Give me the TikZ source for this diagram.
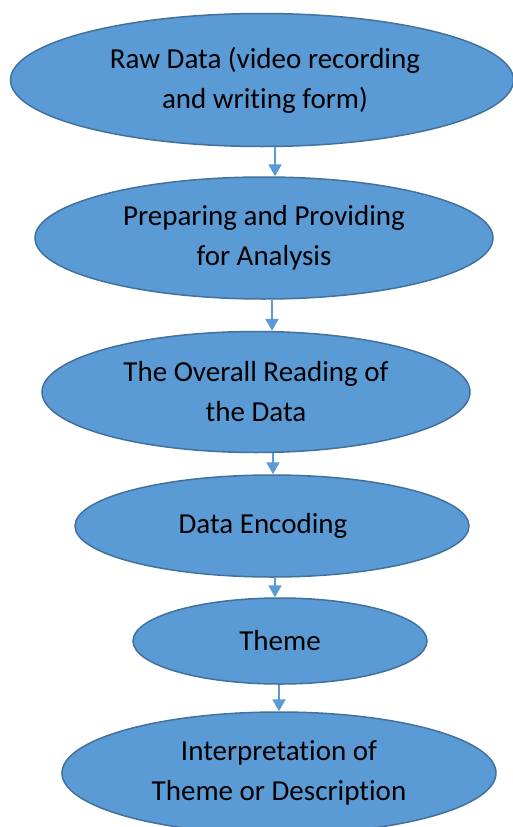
\documentclass[tikz,border=0pt]{standalone}
\usepackage{fontspec}
\setmainfont{Carlito}[Ligatures=NoCommon]
\usetikzlibrary{shapes.geometric,arrows.meta}
\definecolor{fillblue}{HTML}{5B9BD5}
\definecolor{edgeblue}{HTML}{41719C}
\tikzset{
  stage/.style={ellipse, draw=edgeblue, line width=1.5pt, fill=fillblue, inner sep=0pt,
    align=center, font=\fontsize{29}{40}\selectfont, text=black},
  flow/.style={draw=fillblue, line width=2.2pt, -{Triangle[width=13pt,length=12pt]}}
}
\begin{document}
\begin{tikzpicture}[x=1pt,y=-1pt]
\useasboundingbox (0,0) rectangle (513,827);
\node[stage, minimum width=503pt, minimum height=133pt] (a) at (262,80) {Raw Data (video recording\hspace*{-6pt}\\and writing form)\hspace*{-6pt}};
\node[stage, minimum width=458pt, minimum height=122pt] (b) at (264,238) {Preparing and Providing\\for Analysis};
\node[stage, minimum width=428pt, minimum height=121pt] (c) at (256,392) {The Overall Reading of\\the Data};
\node[stage, minimum width=394pt, minimum height=102pt] (d) at (272,526) {Data Encoding\hspace*{18pt}};
\node[stage, minimum width=294pt, minimum height=86pt] (e) at (280,641) {Theme};
\node[stage, minimum width=434pt, minimum height=122pt] (f) at (279,773) {Interpretation of\\Theme or Description};
\draw[flow] ([xshift=13pt]a.south) -- ([xshift=11pt]b.north);
\draw[flow] ([xshift=8pt]b.south) -- ([xshift=16pt]c.north);
\draw[flow] ([xshift=17pt]c.south) -- ([xshift=1pt]d.north);
\draw[flow] ([xshift=3pt]d.south) -- ([xshift=-5pt]e.north);
\draw[flow] ([xshift=-1pt]e.south) -- ([xshift=0pt]f.north);
\end{tikzpicture}
\end{document}
